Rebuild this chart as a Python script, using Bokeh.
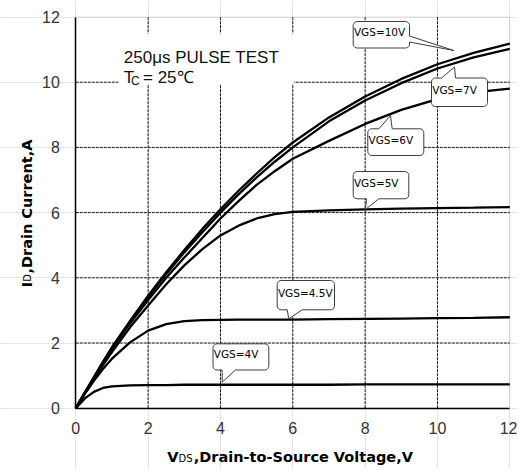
from math import pi
import numpy as np
from bokeh.plotting import figure
from bokeh.models import Label, Range1d, FixedTicker, LinearAxis, BoxAnnotation
from bokeh.embed import file_html
from bokeh.resources import INLINE

# ---------------- data ----------------
vds = [0, 0.25, 0.5, 0.75, 1, 1.5, 2, 2.5, 3, 3.5, 4, 4.5, 5, 5.5, 6, 7, 8, 9, 10, 11, 12]
id_vgs_10v = [0, 0.48, 0.95, 1.42, 1.87, 2.68, 3.45, 4.17, 4.85, 5.5, 6.1, 6.67, 7.2, 7.7, 8.15, 8.92, 9.56, 10.1, 10.55, 10.9, 11.18]
id_vgs_7v = [0, 0.48, 0.95, 1.41, 1.85, 2.65, 3.41, 4.12, 4.78, 5.4, 6.0, 6.56, 7.08, 7.56, 8.0, 8.8, 9.44, 9.97, 10.42, 10.76, 11.02]
id_vgs_6v = [0, 0.47, 0.93, 1.38, 1.82, 2.6, 3.32, 4.0, 4.62, 5.22, 5.82, 6.35, 6.85, 7.27, 7.65, 8.2, 8.72, 9.15, 9.48, 9.69, 9.8]
id_vgs_5v = [0, 0.46, 0.9, 1.32, 1.72, 2.48, 3.15, 3.8, 4.38, 4.88, 5.3, 5.6, 5.82, 5.95, 6.02, 6.07, 6.1, 6.12, 6.14, 6.15, 6.17]
id_vgs_4_5v = [0, 0.44, 0.84, 1.2, 1.52, 2.02, 2.38, 2.58, 2.67, 2.7, 2.71, 2.715, 2.72, 2.72, 2.72, 2.73, 2.74, 2.75, 2.76, 2.77, 2.79]
id_vgs_4v = [0, 0.3, 0.5, 0.62, 0.67, 0.7, 0.71, 0.71, 0.72, 0.72, 0.72, 0.72, 0.72, 0.72, 0.72, 0.72, 0.73, 0.73, 0.73, 0.73, 0.73]
series = [id_vgs_10v, id_vgs_7v, id_vgs_6v, id_vgs_5v, id_vgs_4_5v, id_vgs_4v]
series_labels = ["VGS=10V", "VGS=7V", "VGS=6V", "VGS=5V", "VGS=4.5V", "VGS=4V"]
tick_values = [0, 2, 4, 6, 8, 10, 12]
tick_labels = ["0", "2", "4", "6", "8", "10", "12"]
grid_values = [2, 4, 6, 8, 10]
axis_min, axis_max = 0, 12

# ---------------- layout (pixel geometry of the reference) ----------------
W, H = 517, 468
X0_PX, X12_PX = 75.3, 509.3      # screen x of VDS = 0 and 12
Y0_PX, Y12_PX = 407.7, 16.5      # screen y of ID = 0 and 12
SX = (X12_PX - X0_PX) / 12.0
SY = (Y0_PX - Y12_PX) / 12.0

def dx(px):
    return (px - X0_PX) / SX

def dy(py):
    return (Y0_PX - py) / SY

p = figure(width=W, height=H, x_range=Range1d(dx(0), dx(W)), y_range=Range1d(dy(H), dy(0)),
           output_backend="svg", toolbar_location=None, title=None,
           x_axis_location=None, y_axis_location=None,
           min_border_left=0, min_border_right=0, min_border_top=0, min_border_bottom=0)
p.background_fill_color = "white"
p.border_fill_color = "white"
p.outline_line_color = None

# plot box (gray top/right border)
p.add_layout(BoxAnnotation(left=axis_min, right=axis_max, bottom=axis_min, top=axis_max,
                           fill_alpha=0, line_color="#9a9a9a", line_width=1, level="underlay"))

# dashed grid, limited to the plot box
n = len(grid_values)
p.segment(x0=grid_values, y0=[axis_min] * n, x1=grid_values, y1=[axis_max] * n,
          line_color="#1a1a1a", line_dash="3 1", line_width=1)
p.segment(x0=[axis_min] * n, y0=grid_values, x1=[axis_max] * n, y1=grid_values,
          line_color="#1a1a1a", line_dash="3 1", line_width=1)

# white background behind the test-condition text
p.quad(left=[dx(118)], right=[dx(293.5)], top=[dy(33)], bottom=[dy(83.5)],
       fill_color="white", line_color=None)

# axes crossing at the origin
xaxis = LinearAxis(fixed_location=0, bounds=(axis_min, axis_max), ticker=FixedTicker(ticks=tick_values))
yaxis = LinearAxis(fixed_location=0, bounds=(axis_min, axis_max), ticker=FixedTicker(ticks=tick_values))
for ax in (xaxis, yaxis):
    ax.major_label_overrides = {v: l for v, l in zip(tick_values, tick_labels)}
    ax.major_tick_out = 0
    ax.major_tick_in = 0
    ax.minor_tick_out = 0
    ax.minor_tick_in = 0
    ax.axis_line_color = "black"
    ax.axis_line_width = 1.5
    ax.major_label_text_font = "Liberation Sans"
    ax.major_label_text_font_size = "16px"
    ax.major_label_text_color = "#333333"
yaxis.major_label_standoff = 16
xaxis.major_label_standoff = 14
p.add_layout(xaxis, "below")
p.add_layout(yaxis, "left")

for ys in series:
    p.line(vds, ys, line_color="black", line_width=2.3)

# ---------------- callouts ----------------
def bubble(x0, y0, x1, y1, side, b0, b1, tx, ty, r=4, k=6):
    pts = []
    def arc(cx, cy, a0, a1):
        for a in np.linspace(np.radians(a0), np.radians(a1), k):
            pts.append((cx + r * np.cos(a), cy + r * np.sin(a)))
    arc(x0 + r, y0 + r, 180, 270)
    if side == "top":
        pts.extend([(b0, y0), (tx, ty), (b1, y0)])
    arc(x1 - r, y0 + r, 270, 360)
    if side == "right":
        pts.extend([(x1, b0), (tx, ty), (x1, b1)])
    arc(x1 - r, y1 - r, 0, 90)
    if side == "bottom":
        pts.extend([(b1, y1), (tx, ty), (b0, y1)])
    arc(x0 + r, y1 - r, 90, 180)
    return [dx(q[0]) for q in pts], [dy(q[1]) for q in pts]

callouts = [
    (352.7, 21.0, 409.0, 47.5, "right", 35.5, 41.5, 453.3, 50.0),
    (431.0, 77.5, 487.0, 106.0, "top", 441.0, 455.0, 454.0, 66.5),
    (367.3, 128.3, 423.3, 155.0, "top", 378.3, 391.7, 390.0, 115.0),
    (352.7, 171.0, 408.3, 198.3, "bottom", 366.0, 378.3, 365.0, 209.0),
    (276.7, 280.0, 334.0, 309.3, "bottom", 286.7, 301.7, 288.3, 318.3),
    (212.5, 343.3, 268.3, 369.5, "bottom", 221.7, 235.0, 221.7, 381.7),
]
for lab_text, c in zip(series_labels, callouts):
    x0, y0, x1, y1, side, b0, b1, tx, ty = c
    xs, ys = bubble(x0, y0, x1, y1, side, b0, b1, tx, ty)
    p.patch(xs, ys, fill_color="white", line_color="#3d3d3d", line_width=1)
    p.add_layout(Label(x=dx(x0 + 0.7), y=dy((y0 + y1) / 2 - 2.5), text=lab_text,
                       text_font="DejaVu Sans", text_font_size="10.5px",
                       text_color="black", text_align="left", text_baseline="middle"))

# ---------------- texts ----------------
def lab(x, y, t, size, font="Liberation Sans", style="normal", angle=0.0, color="#111111"):
    p.add_layout(Label(x=x, y=y, text=t, text_font=font, text_font_size=size,
                       text_font_style=style, angle=angle, text_color=color,
                       text_align="left", text_baseline="alphabetic"))

lab(dx(123.3), dy(56.7), "250μs PULSE TEST", "17px")
lab(dx(123.3), dy(76.7), "T", "17px")
lab(dx(130.5), dy(80.0), "C", "12px")
lab(dx(142.5), dy(76.7), "= 25℃", "17px")

# axis titles
lab(dx(166.7), dy(456.7), "V", "14.5px", font="DejaVu Sans", style="bold", color="black")
lab(dx(178.0), dy(457.5), "DS", "10px", font="DejaVu Sans", color="black")
lab(dx(193.3), dy(456.7), ",Drain-to-Source Voltage,V", "14.5px", font="DejaVu Sans",
    style="bold", color="black")

lab(dx(26.7), dy(286.7), "I", "14.5px", font="DejaVu Sans", style="bold", angle=pi / 2, color="black")
lab(dx(27.3), dy(281.3), "D", "10px", font="DejaVu Sans", angle=pi / 2, color="black")
lab(dx(26.7), dy(273.0), ",Drain Current,A", "14.5px", font="DejaVu Sans", style="bold",
    angle=pi / 2, color="black")

open("out.html", "w").write(file_html(p, INLINE))
